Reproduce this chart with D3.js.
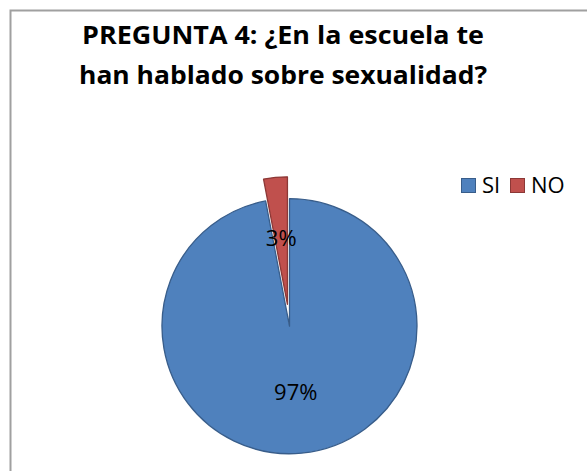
<!DOCTYPE html>
<html>
<head>
<meta charset="utf-8">
<script src="https://cdn.jsdelivr.net/npm/d3@7"></script>
<style>
  html, body { margin: 0; padding: 0; background: #fff; }
  svg { display: block; }
  text { font-family: "Open Sans", "Liberation Sans", sans-serif; }
</style>
</head>
<body>
<svg id="chart" width="587" height="471"></svg>
<script>
const titleLines = ["PREGUNTA 4: ¿En la escuela te", "han hablado sobre sexualidad?"];
const categories = ["SI", "NO"];
const values = [97, 3];
const fills = ["#4f81bd", "#c0504d"];
const strokes = ["#385d8a", "#8c3836"];
const exploded = [0, 1];

const W = 587, H = 471;
const svg = d3.select("#chart");

// chart area border (only top/left visible in the crop)
svg.append("path")
  .attr("d", `M10.5,${H + 5} L10.5,10.5 L${W + 5},10.5`)
  .attr("fill", "none")
  .attr("stroke", "#a0a0a0")
  .attr("stroke-width", 2);

// title
const titleWidths = [402, 408];
svg.selectAll("text.title")
  .data(titleLines)
  .join("text")
  .attr("class", "title")
  .attr("x", 283)
  .attr("y", (d, i) => 44 + i * 39.5)
  .attr("text-anchor", "middle")
  .attr("font-weight", "bold")
  .attr("font-size", 25)
  .attr("fill", "#000")
  .attr("textLength", (d, i) => titleWidths[i])
  .attr("lengthAdjust", "spacingAndGlyphs")
  .text(d => d);

// pie
const cx = 289.5, cy = 326.2, R = 127.5, explode = 22;
const color = d3.scaleOrdinal().domain(categories).range(fills);
const strokeColor = d3.scaleOrdinal().domain(categories).range(strokes);
const pie = d3.pie().sort(null).value(d => d.value);
const arcs = pie(categories.map((c, i) => ({ cat: c, value: values[i], ex: exploded[i] })));
const arc = d3.arc().innerRadius(0).outerRadius(R);
const labelArc = d3.arc().innerRadius(R * 0.52).outerRadius(R * 0.52);
const fmt = d3.format(".0%");
const total = d3.sum(values);

const g = svg.append("g").attr("transform", `translate(${cx},${cy})`);
function offset(d) {
  if (!d.data.ex) return [0, 0];
  const a = (d.startAngle + d.endAngle) / 2;
  return [Math.sin(a) * explode, -Math.cos(a) * explode];
}
g.selectAll("path.slice")
  .data(arcs)
  .join("path")
  .attr("class", "slice")
  .attr("transform", d => `translate(${offset(d)})`)
  .attr("d", arc)
  .attr("fill", d => color(d.data.cat))
  .attr("stroke", d => strokeColor(d.data.cat))
  .attr("stroke-width", 1.3)
  .attr("stroke-linejoin", "round");

g.selectAll("text.lbl")
  .data(arcs)
  .join("text")
  .attr("class", "lbl")
  .attr("transform", d => {
    const c = labelArc.centroid(d), o = offset(d);
    return `translate(${c[0] + o[0]},${c[1] + o[1]})`;
  })
  .attr("text-anchor", "middle")
  .attr("dy", "0.36em")
  .attr("font-size", 22)
  .attr("fill", "#000")
  .text(d => fmt(d.data.value / total));

// legend
const legend = svg.append("g").attr("transform", "translate(461,178)");
const items = legend.selectAll("g")
  .data(categories)
  .join("g")
  .attr("transform", (d, i) => `translate(${i * 49},0)`);
items.append("rect")
  .attr("x", 0.5).attr("y", 0.5)
  .attr("width", 14).attr("height", 14)
  .attr("fill", d => color(d))
  .attr("stroke", d => strokeColor(d))
  .attr("stroke-width", 1);
items.append("text")
  .attr("x", 21)
  .attr("y", 15)
  .attr("font-size", 22)
  .attr("fill", "#000")
  .text(d => d);
</script>
</body>
</html>
